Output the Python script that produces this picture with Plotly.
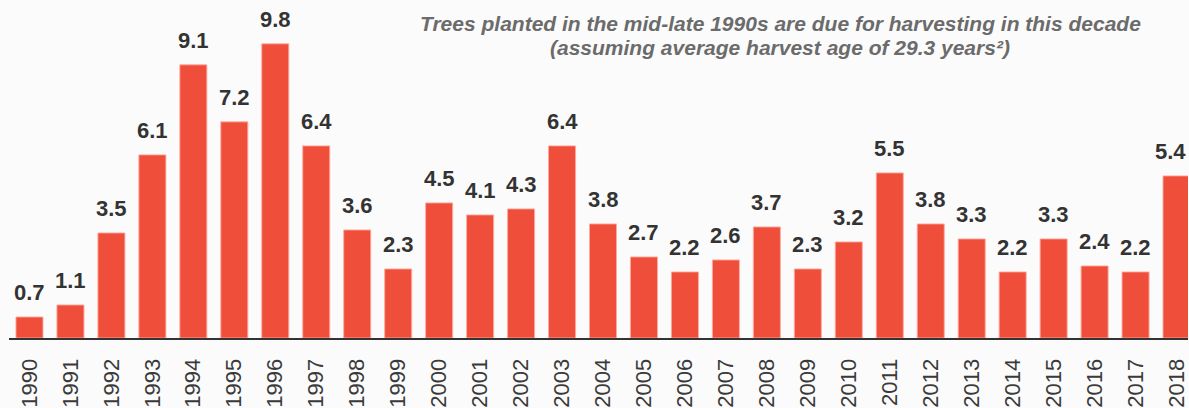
import plotly.graph_objects as go

# Data
years = [str(y) for y in range(1990, 2019)]
planted = [0.7, 1.1, 3.5, 6.1, 9.1, 7.2, 9.8, 6.4, 3.6, 2.3,
           4.5, 4.1, 4.3, 6.4, 3.8, 2.7, 2.2, 2.6, 3.7, 2.3,
           3.2, 5.5, 3.8, 3.3, 2.2, 3.3, 2.4, 2.2, 5.4]

note_line1 = "Trees planted in the mid-late 1990s are due for harvesting in this decade"
note_line2 = "(assuming average harvest age of 29.3 years²)"

bar_colour = "#EF4F3A"
text_colour = "#333333"
note_colour = "#6b6b6b"
font_family = "Liberation Sans, Arial, sans-serif"

W, H = 1189, 408
M_L, M_B = 9, 68
plot_w, plot_h = W - M_L, H - M_B

fig = go.Figure(
    go.Bar(x=years,
           y=planted,
           marker_color=bar_colour,
           marker_line=dict(color="rgba(255,170,160,0.9)", width=1),
           hoverinfo="skip"),
    layout={"width": W,
            "height": H,
            "margin": dict(t=0, b=M_B, l=M_L, r=0),
            "paper_bgcolor": "#fbfbfb",
            "plot_bgcolor": "#fbfbfb",
            "font": dict(family=font_family, color=text_colour),
            "bargap": 0.34,
            "showlegend": False})

# value labels above each bar (category axis -> use the bar index)
for i, val in enumerate(planted):
    # last bar sits at the right edge, nudge its label in a little
    shift = -6 if i == len(planted) - 1 else 0
    fig.add_annotation(x=i, y=val, text="<b>%.1f</b>" % val,
                       showarrow=False, yanchor="bottom", yshift=10, xshift=shift,
                       font=dict(size=22, color=text_colour))

# note at the top, two centred lines (pixel positions -> paper coords)
for line, px_y in [(note_line1, 24), (note_line2, 48)]:
    fig.add_annotation(x=(781 - M_L) / plot_w, y=(plot_h - px_y) / plot_h,
                       xref="paper", yref="paper",
                       text="<b><i>%s</i></b>" % line,
                       showarrow=False, xanchor="center", yanchor="middle",
                       font=dict(size=21, color=note_colour))

fig.update_xaxes(type="category", range=[-0.5, 28.28], tickangle=-90,
                 tickfont=dict(size=22, color="#3a3a3a"),
                 showline=True, linecolor="#333333", linewidth=2,
                 ticks="", ticklabelstandoff=10, showgrid=False)
fig.update_yaxes(range=[0, 11.26], visible=False, showgrid=False, zeroline=False)

fig.write_html("out.html", config={"displayModeBar": False},
               post_script="document.body.style.margin='0';document.body.style.overflow='hidden';")
